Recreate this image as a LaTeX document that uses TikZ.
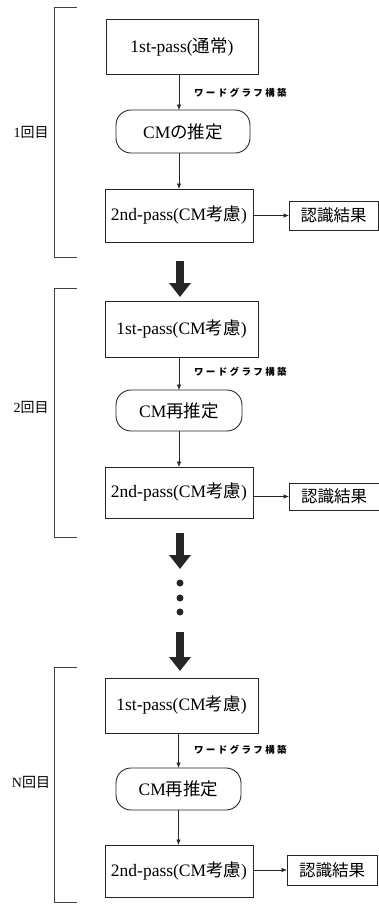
\documentclass[tikz,border=0pt]{standalone}
\usepackage{fontspec}
\setmainfont{Liberation Serif}
\newfontfamily\jp{Noto Sans CJK JP}
\newfontfamily\jpsp[LetterSpace=25]{Noto Sans CJK JP}
\usetikzlibrary{arrows.meta,calc}
\begin{document}
\begin{tikzpicture}[x=1pt,y=-1pt,
  every node/.style={inner sep=0pt,outer sep=0pt},
  boxnode/.style={draw=black!85,line width=0.9pt,fill=white,font=\fontsize{17.5}{19}\selectfont},
  cmnode/.style={boxnode,rounded corners=15pt},
  resnode/.style={draw=black!85,line width=0.9pt,font=\fontsize{16.5}{18}\selectfont\jp},
  labnode/.style={font=\fontsize{9.5}{11}\selectfont\jpsp\bfseries,anchor=west},
  itnode/.style={font=\fontsize{14}{16}\selectfont},
  arr/.style={draw=black!85,line width=0.7pt,-{Latex[length=5.5pt,width=4.5pt]}},
  bigarr/.style={draw=black!85,line width=8pt,-{Triangle[length=14pt,width=21pt]}},
  brk/.style={draw=black!75,line width=0.8pt},
  dotnode/.style={circle,fill=black!85,minimum size=7pt}
]
\useasboundingbox (0,0) rectangle (379,914);

% ---------- block 1 ----------
\node[boxnode,minimum width=152pt,minimum height=55pt] (p1) at (182,46.5) {1st-pass({\jp 通常})};
\node[cmnode,minimum width=134pt,minimum height=43pt] (c1) at (183,131.5) {CM{\jp の推定}};
\node[boxnode,minimum width=148pt,minimum height=53pt] (s1) at (179,215.5) {2nd-pass(CM{\jp 考慮})};
\node[resnode,minimum width=89pt,minimum height=29pt] (r1) at (333.5,215.5) {認識結果};
\node[labnode] (l1) at (194,93) {ワードグラフ構築};
\node[itnode] (i1) at (31,132) {1{\jp 回目}};
\draw[arr] (p1.south -| s1) -- (c1.north -| s1);
\draw[arr] (c1.south -| s1) -- (s1.north);
\draw[arr] (s1.east) -- (r1.west);
\coordinate (k1a) at (77,7);
\coordinate (k1b) at (77,257);
\draw[brk] (k1a) -- (54,7) -- (54,257) -- (k1b);

% big arrow 1
\coordinate (b1s) at (180,261);
\coordinate (b1e) at (180,297);
\draw[bigarr] (b1s) -- (b1e);

% ---------- block 2 ----------
\node[boxnode,minimum width=153pt,minimum height=56pt] (p2) at (181.5,329) {1st-pass(CM{\jp 考慮})};
\node[cmnode,minimum width=126pt,minimum height=41pt] (c2) at (179,410.5) {CM{\jp 再推定}};
\node[boxnode,minimum width=148pt,minimum height=51pt] (s2) at (179,492.5) {2nd-pass(CM{\jp 考慮})};
\node[resnode,minimum width=90pt,minimum height=27pt] (r2) at (334,496.5) {認識結果};
\node[labnode] (l2) at (194,372) {ワードグラフ構築};
\node[itnode] (i2) at (31,407) {2{\jp 回目}};
\draw[arr] (p2.south -| s2) -- (c2.north -| s2);
\draw[arr] (c2.south) -- (s2.north);
\draw[arr] (s2.east |- r2.west) -- (r2.west);
\coordinate (k2a) at (77,288);
\coordinate (k2b) at (77,537);
\draw[brk] (k2a) -- (54,288) -- (54,537) -- (k2b);

% big arrow 2
\coordinate (b2s) at (180,533);
\coordinate (b2e) at (180,569);
\draw[bigarr] (b2s) -- (b2e);

% dots
\node[dotnode] (d1) at (180,583) {};
\node[dotnode] (d2) at (180,598) {};
\node[dotnode] (d3) at (180,612) {};

% big arrow 3
\coordinate (b3s) at (180,632);
\coordinate (b3e) at (180,671);
\draw[bigarr] (b3s) -- (b3e);

% ---------- block 3 ----------
\node[boxnode,minimum width=153pt,minimum height=55pt] (p3) at (181.5,705.5) {1st-pass(CM{\jp 考慮})};
\node[cmnode,minimum width=125pt,minimum height=42pt] (c3) at (178.5,789) {CM{\jp 再推定}};
\node[boxnode,minimum width=148pt,minimum height=52pt] (s3) at (179,871) {2nd-pass(CM{\jp 考慮})};
\node[resnode,minimum width=90pt,minimum height=30pt] (r3) at (332,870) {認識結果};
\node[labnode] (l3) at (194,750) {ワードグラフ構築};
\node[itnode] (i3) at (31,782) {N{\jp 回目}};
\draw[arr] (p3.south -| c3) -- (c3.north);
\draw[arr] (c3.south) -- (s3.north -| c3);
\draw[arr] (s3.east |- r3.west) -- (r3.west);
\coordinate (k3a) at (77,667);
\coordinate (k3b) at (77,902);
\draw[brk] (k3a) -- (54,667) -- (54,902) -- (k3b);
\end{tikzpicture}
\end{document}
